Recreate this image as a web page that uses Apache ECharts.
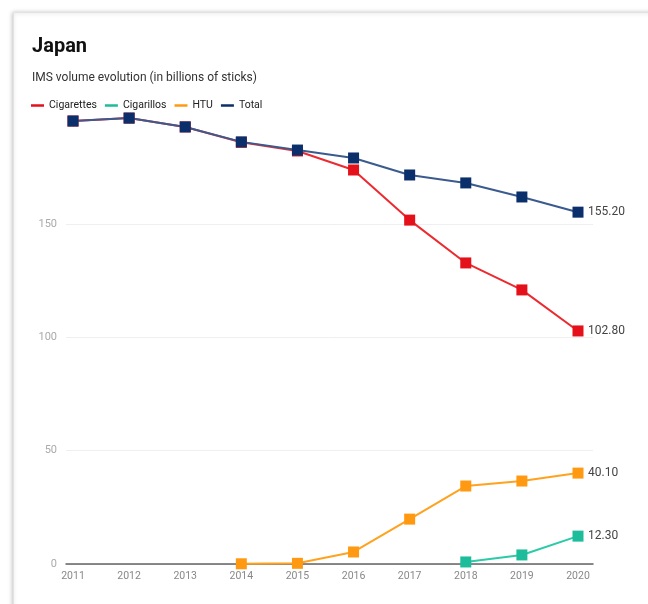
<!DOCTYPE html>
<html>
<head>
<meta charset="utf-8">
<script src="https://cdn.jsdelivr.net/npm/echarts@6/dist/echarts.min.js"></script>
<style>html,body{margin:0;padding:0;background:#fff;}#c{width:648px;height:604px;}</style>
</head>
<body>
<div id="c"></div>
<script>
const years = ['2011','2012','2013','2014','2015','2016','2017','2018','2019','2020'];
const cigarettes = [195.4, 196.7, 192.8, 186.0, 182.2, 173.8, 151.7, 132.8, 120.9, 102.8];
const cigarillos = [null, null, null, null, null, null, null, 0.9, 4.0, 12.3];
const htu = [null, null, null, 0.1, 0.3, 5.3, 19.8, 34.4, 36.6, 40.1];
const total = [195.4, 196.7, 192.8, 186.2, 182.6, 179.1, 171.6, 168.1, 161.9, 155.2];
const yTicks = [0, 50, 100, 150];

const chart = echarts.init(document.getElementById('c'));
const font = 'Roboto, "Noto Sans", sans-serif';
const gTop = 110.6, gBottom = 40;

function mk(name, data, lineColor, markColor) {
  return {
    name: name, type: 'line', data: data,
    xAxisIndex: 1, yAxisIndex: 1,
    symbol: 'rect', symbolSize: 11,
    lineStyle: {color: lineColor, width: 2},
    itemStyle: {color: markColor},
    color: lineColor,
    emphasis: {disabled: true},
    endLabel: {show: true, distance: 10, color: '#444', fontSize: 12, fontFamily: font,
      formatter: p => Number(p.value).toFixed(2)}
  };
}

chart.setOption({
  animation: false,
  graphic: [{
    type: 'rect', left: 13, top: 12, z: -10,
    shape: {width: 660, height: 620},
    style: {fill: '#fff', stroke: '#e2e2e2', lineWidth: 1, shadowBlur: 4, shadowColor: 'rgba(0,0,0,0.25)', shadowOffsetX: -1}
  }],
  title: {
    text: 'Japan', left: 27, top: 32,
    textStyle: {fontFamily: font, fontSize: 20, fontWeight: 'bold', color: '#111'},
    subtext: 'IMS volume evolution (in billions of sticks)',
    subtextStyle: {fontFamily: font, fontSize: 12, color: '#333'},
    itemGap: 15
  },
  legend: {
    left: 26, top: 95, icon: 'rect', itemWidth: 13, itemHeight: 2.5, itemGap: 8,
    textStyle: {fontFamily: font, fontSize: 10.5, color: '#222'},
    data: ['Cigarettes', 'Cigarillos', 'HTU', 'Total']
  },
  grid: [
    {left: 66, right: 55, top: gTop, bottom: gBottom},
    {left: 73, right: 70, top: gTop, bottom: gBottom}
  ],
  xAxis: [
    {type: 'value', gridIndex: 0, min: 0, max: 1, axisLabel: {show: false}, axisTick: {show: false},
     splitLine: {show: false}, axisLine: {show: true, lineStyle: {color: '#666', width: 1.5}}},
    {type: 'category', gridIndex: 1, data: years, boundaryGap: false,
     axisLine: {show: false}, axisTick: {show: false}, splitLine: {show: false},
     axisLabel: {color: '#888', fontSize: 10.5, fontFamily: font, margin: 7}}
  ],
  yAxis: [
    {type: 'value', gridIndex: 0, min: 0, max: 200, interval: 50,
     axisLine: {show: false}, axisTick: {show: false},
     axisLabel: {color: '#aaa', fontSize: 11, fontFamily: font, margin: 9,
       formatter: v => yTicks.indexOf(v) >= 0 ? String(v) : ''},
     splitLine: {show: true, lineStyle: {color: ['#ddd', '#efefef', '#efefef', '#efefef', 'rgba(0,0,0,0)'], width: 1}}},
    {type: 'value', gridIndex: 1, min: 0, max: 200, interval: 50, show: false, splitLine: {show: false}}
  ],
  series: [
    mk('Cigarettes', cigarettes, '#ec2a2f', '#e4101a'),
    mk('Cigarillos', cigarillos, '#2ccaa8', '#1dbd9c'),
    mk('HTU', htu, '#ffa21f', '#ff9912'),
    mk('Total', total, '#3b5a8e', '#0b2f6b')
  ]
});
</script>
</body>
</html>
